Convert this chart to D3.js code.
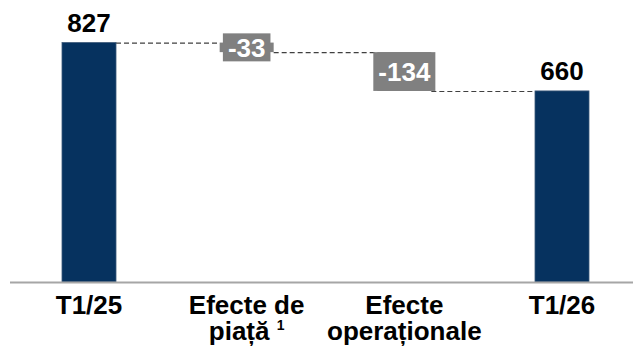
<!DOCTYPE html>
<html>
<head>
<meta charset="utf-8">
<script src="https://cdn.jsdelivr.net/npm/d3@7"></script>
<style>
  html, body { margin: 0; padding: 0; background: #ffffff; }
  svg { display: block; }
  text { font-family: "Liberation Sans", Arial, Helvetica, sans-serif; font-weight: bold; }
</style>
</head>
<body>
<svg id="chart" width="633" height="350"></svg>
<script>
// Waterfall: Q1/25 result, market and operational effects, Q1/26 result
const categories = ["T1/25", "Efecte de piață", "Efecte operaționale", "T1/26"];
const values = [827, -33, -134, 660];
const kinds = ["total", "delta", "delta", "total"];
const labelLines = [["T1/25"], ["Efecte de", "piață"], ["Efecte", "operaționale"], ["T1/26"]];
const footnotes = ["", "1", "", ""];

const W = 633, H = 350;
const baseY = 282;
const navy = "#06325f";
const grey = "#808080";
const fs = 26;

const svg = d3.select("#chart");

const x = d3.scalePoint().domain(categories).range([89, 562]);
const barW = x.step() * 0.3425;
const y = d3.scaleLinear().domain([0, 900]).range([baseY, baseY - 900 * 0.2895]);

// running levels for each step
let level = 0;
const steps = categories.map((c, i) => {
  let lo, hi, end;
  if (kinds[i] === "total") {
    lo = 0; hi = values[i]; end = values[i];
  } else {
    const start = level;
    end = start + values[i];
    lo = Math.min(start, end); hi = Math.max(start, end);
  }
  level = end;
  return { cat: c, value: values[i], kind: kinds[i], lo, hi, end, i };
});

// dashed connectors between consecutive steps
const connectors = steps.slice(0, -1).map((s, i) => ({
  x1: x(s.cat) + barW / 2,
  x2: x(steps[i + 1].cat) - barW / 2,
  v: s.end
}));
svg.append("g").selectAll("line").data(connectors).join("line")
  .attr("x1", d => d.x1).attr("x2", d => d.x2)
  .attr("y1", d => y(d.v) + 0.5).attr("y2", d => y(d.v) + 0.5)
  .attr("stroke", "#404040").attr("stroke-width", 1.1)
  .attr("stroke-dasharray", "5,3");

// bars
svg.append("g").selectAll("rect").data(steps).join("rect")
  .attr("x", d => x(d.cat) - barW / 2)
  .attr("width", barW)
  .attr("y", d => y(d.hi))
  .attr("height", d => y(d.lo) - y(d.hi))
  .attr("fill", d => d.kind === "total" ? navy : grey)
  .attr("stroke", d => d.kind === "total" ? "#3b5878" : "none")
  .attr("stroke-width", 0.8);

// baseline
svg.append("line")
  .attr("x1", 10).attr("x2", W)
  .attr("y1", y(0) + 0.5).attr("y2", y(0) + 0.5)
  .attr("stroke", "#a6a6a6").attr("stroke-width", 2);

// value labels above totals
svg.append("g").selectAll("text").data(steps.filter(d => d.kind === "total")).join("text")
  .attr("x", d => x(d.cat))
  .attr("y", d => y(d.hi) - 11)
  .attr("text-anchor", "middle")
  .attr("font-size", fs)
  .attr("fill", "#000000")
  .text(d => d.value);

// delta labels in grey boxes
const deltaG = svg.append("g").selectAll("g").data(steps.filter(d => d.kind === "delta")).join("g");
deltaG.each(function (d) {
  const g = d3.select(this);
  const cy = (y(d.lo) + y(d.hi)) / 2;
  const t = g.append("text")
    .attr("x", x(d.cat))
    .attr("y", cy + 9.5)
    .attr("text-anchor", "middle")
    .attr("font-size", fs)
    .attr("fill", "#ffffff")
    .text(d.value);
  const tw = t.node().getComputedTextLength();
  const bh = Math.max(y(d.lo) - y(d.hi), 28);
  g.insert("rect", "text")
    .attr("x", x(d.cat) - tw / 2 - 5)
    .attr("width", tw + 10)
    .attr("y", cy - bh / 2)
    .attr("height", bh)
    .attr("fill", grey);
});

// category labels
const catG = svg.append("g").selectAll("text").data(steps).join("text")
  .attr("text-anchor", "middle")
  .attr("font-size", fs)
  .attr("fill", "#000000");
catG.each(function (d, i) {
  const t = d3.select(this);
  labelLines[i].forEach((line, k) => {
    const last = k === labelLines[i].length - 1;
    const ts = t.append("tspan")
      .attr("x", x(d.cat))
      .attr("y", 314 + k * 26)
      .text(line + (footnotes[i] && last ? " " : ""));
    if (footnotes[i] && last) {
      ts.append("tspan").attr("font-size", 14).attr("dy", -10).text(footnotes[i]);
    }
  });
});
</script>
</body>
</html>
